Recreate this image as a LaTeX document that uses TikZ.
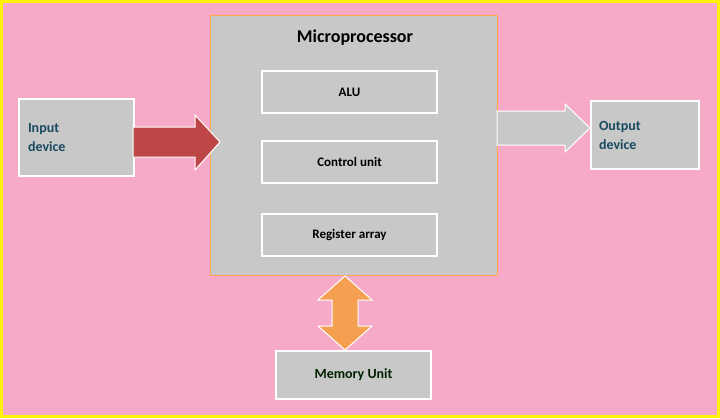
\documentclass[tikz,border=0pt]{standalone}
\usepackage{fontspec}
\setmainfont{Carlito}
\definecolor{bgpink}{RGB}{247,170,200}
\definecolor{boxgray}{RGB}{200,200,200}
\definecolor{tealtxt}{RGB}{25,75,95}
\definecolor{redarrow}{RGB}{190,70,70}
\definecolor{orangearrow}{RGB}{245,160,80}
\begin{document}
\begin{tikzpicture}[x=1pt,y=-1pt,
  box/.style={draw=white,line width=2pt,fill=boxgray,inner sep=0},
  inner/.style={box,minimum width=175pt,minimum height=42pt,font=\bfseries\fontsize{13}{15}\selectfont},
  side/.style={box,font=\bfseries\fontsize{14}{19}\selectfont,text=tealtxt,align=left},
  blockarrow/.style={draw=white,line width=1pt}]
\useasboundingbox (0,0) rectangle (720,418);
\fill[bgpink] (0,0) rectangle (720,418);
\draw[yellow,line width=3pt] (1.5,1.5) rectangle (718.5,416.5);
\node[box,draw=orange!70,line width=1pt,minimum width=287pt,minimum height=260pt,anchor=north west] (mp) at (210,15) {};
\node[font=\bfseries\fontsize{18}{20}\selectfont] (title) at (355,38) {Microprocessor};
\node[inner] (alu) at (349.5,92) {ALU};
\node[inner] (cu) at (349.5,162) {Control unit};
\node[inner] (ra) at (349.5,235) {Register array};
\node[side,minimum width=115pt,minimum height=77pt,anchor=north west,text width=97pt] (in) at (18,98) {Input\\device};
\node[side,minimum width=108pt,minimum height=68pt,anchor=north west,text width=92pt] (out) at (590,100) {Output\\device};
\node[box,minimum width=155pt,minimum height=48pt,anchor=north west,font=\bfseries\fontsize{14}{16}\selectfont,text=black!70!green!40!black] (mem) at (275,350) {Memory Unit};
\fill[redarrow,blockarrow] (133,127) -- (195,127) -- (195,115) -- (220,142) -- (195,170) -- (195,157) -- (133,157) -- cycle;
\fill[boxgray,blockarrow] (497,111) -- (565,111) -- (565,104) -- (590,128) -- (565,152) -- (565,145) -- (497,145) -- cycle;
\fill[orangearrow,blockarrow] (345,276) -- (372,300) -- (358,300) -- (358,326) -- (372,326) -- (345,350) -- (318,326) -- (332,326) -- (332,300) -- (318,300) -- cycle;
\end{tikzpicture}
\end{document}
